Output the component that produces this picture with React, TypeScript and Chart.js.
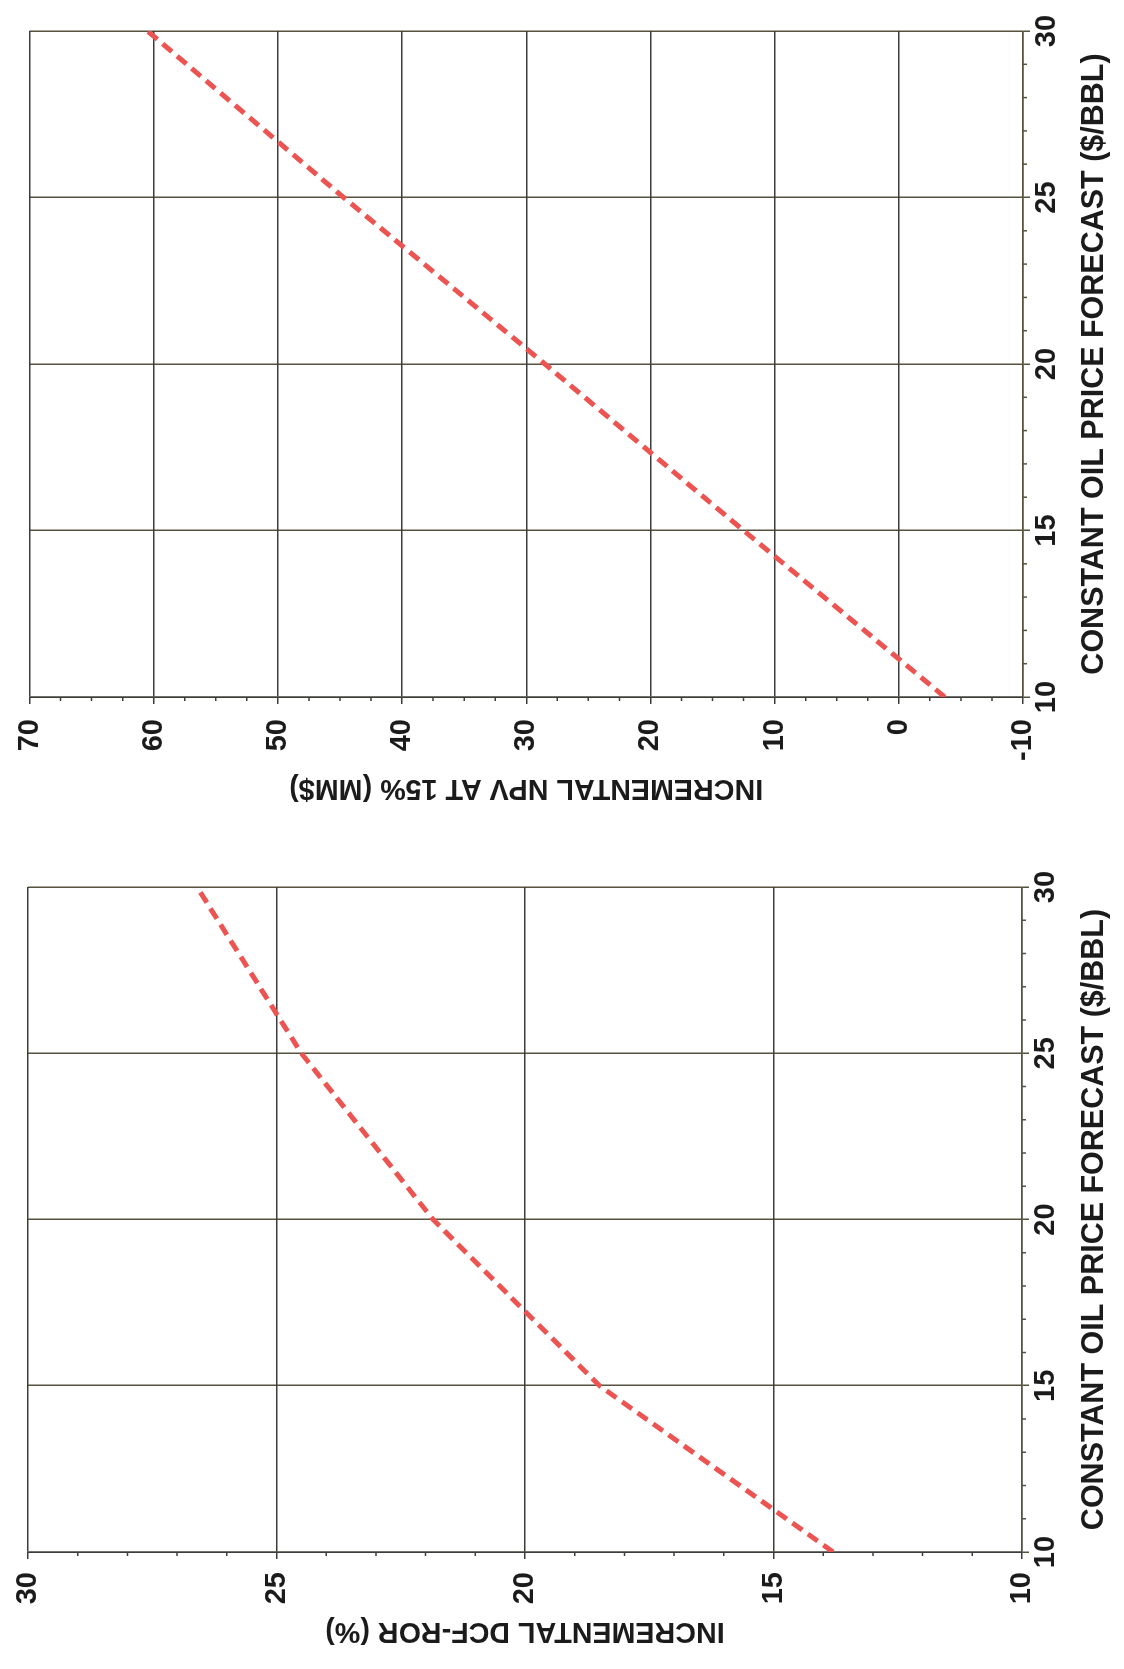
import React, { useEffect, useRef } from 'react';
import { Chart, registerables } from 'chart.js';

Chart.register(...registerables);

// ---------- data ----------
const oilPrice = [10, 15, 20, 25, 30];
const npvAt15 = [-3.7, 12.5, 28.5, 44.7, 60.5];
const dcfRor = [13.8, 18.5, 21.85, 24.5, 26.6];

// ---------- axis settings ----------
const priceAxis = { min: 10, max: 30, step: 5, minor: 1 };
const npvAxis = { min: -10, max: 70, step: 10, minor: 2.5 };
const rorAxis = { min: 10, max: 30, step: 5, minor: 1 };

const priceTitle = 'CONSTANT OIL PRICE FORECAST ($/BBL)';
const npvTitle = 'INCREMENTAL NPV AT 15% (MM$)';
const rorTitle = 'INCREMENTAL DCF-ROR (%)';

const FONT = '"Liberation Sans", Arial, Helvetica, sans-serif';
const TEXT = '#1b1b1b';
const GRID_Y = '#3c3c3a';
const GRID_X = '#57533f';
const LINE = '#ec5452';

const minorTickPlugin = {
  id: 'minorTicks',
  afterDraw(chart: any, _args: any, opts: any) {
    const { ctx, chartArea: a } = chart;
    const xs = chart.scales.x;
    const ys = chart.scales.y;
    ctx.save();
    ctx.lineWidth = 1.5;
    const drawSet = (scale: any, minor: number, major: number, horizontal: boolean, color: string) => {
      ctx.strokeStyle = color;
      ctx.beginPath();
      const n = Math.round((scale.max - scale.min) / minor);
      for (let i = 0; i <= n; i++) {
        const v = scale.min + i * minor;
        const r = v / major;
        if (Math.abs(r - Math.round(r)) < 1e-6) continue;
        const p = scale.getPixelForValue(v);
        if (horizontal) {
          ctx.moveTo(p, a.bottom);
          ctx.lineTo(p, a.bottom + opts.len);
        } else {
          ctx.moveTo(a.left, p);
          ctx.lineTo(a.left - opts.len, p);
        }
      }
      ctx.stroke();
    };
    drawSet(xs, opts.xMinor, opts.xMajor, true, GRID_X);
    drawSet(ys, opts.yMinor, opts.yMajor, false, GRID_Y);
    ctx.restore();
  },
};

type PanelProps = {
  top: number;
  W: number;
  H: number;
  values: number[];
  yAxis: { min: number; max: number; step: number; minor: number };
  yTitle: string;
  padTop: number;
  padRight: number;
  yWidth: number;
  xHeight: number;
  yLabelPad: number;
  yTitlePad: number;
};

function Panel(p: PanelProps) {
  const ref = useRef<HTMLCanvasElement>(null);
  useEffect(() => {
    if (!ref.current) return;
    const chart = new Chart(ref.current, {
      type: 'scatter',
      data: {
        datasets: [
          {
            data: oilPrice.map((x, i) => ({ x, y: p.values[i] })),
            showLine: true,
            borderColor: LINE,
            borderWidth: 5,
            borderDash: [12, 7],
            pointRadius: 0,
            fill: false,
            tension: 0,
          },
        ],
      },
      options: {
        animation: false,
        responsive: false,
        maintainAspectRatio: false,
        layout: { padding: { top: p.padTop, right: p.padRight, left: 0, bottom: 0 } },
        plugins: {
          legend: { display: false },
          tooltip: { enabled: false },
          minorTicks: {
            len: 4,
            xMinor: priceAxis.minor,
            xMajor: priceAxis.step,
            yMinor: p.yAxis.minor,
            yMajor: p.yAxis.step,
          },
        } as any,
        scales: {
          x: {
            type: 'linear',
            position: 'bottom',
            min: priceAxis.min,
            max: priceAxis.max,
            afterFit: (s: any) => {
              s.height = p.xHeight;
            },
            ticks: {
              stepSize: priceAxis.step,
              color: TEXT,
              padding: 2,
              maxRotation: 0,
              font: { family: FONT, size: 29, weight: 'bold', lineHeight: 1 },
            },
            grid: { color: GRID_X, lineWidth: 1.5, tickLength: 7, tickColor: GRID_X, tickWidth: 1.5 },
            border: { display: true, color: GRID_X, width: 1.5 },
            title: {
              display: true,
              text: priceTitle,
              color: TEXT,
              font: { family: FONT, size: 30.5, weight: 'bold', lineHeight: 1.2 },
              padding: { top: 0, bottom: 11 },
            },
          },
          y: {
            type: 'linear',
            position: 'left',
            min: p.yAxis.min,
            max: p.yAxis.max,
            afterFit: (s: any) => {
              s.width = p.yWidth;
            },
            ticks: {
              stepSize: p.yAxis.step,
              color: TEXT,
              padding: p.yLabelPad,
              font: { family: FONT, size: 29, weight: 'bold', lineHeight: 1 },
            },
            grid: { color: GRID_Y, lineWidth: 1.5, tickLength: 7, tickColor: GRID_Y, tickWidth: 1.5 },
            border: { display: true, color: GRID_Y, width: 1.5 },
            title: {
              display: true,
              text: p.yTitle,
              color: TEXT,
              font: { family: FONT, size: 28.7, weight: 'bold', lineHeight: 1.2 },
              padding: { top: p.yTitlePad, bottom: 0 },
            },
          },
        },
      } as any,
      plugins: [minorTickPlugin],
    });
    return () => chart.destroy();
  }, []);

  return (
    <div
      style={{
        position: 'absolute',
        left: 0,
        top: p.top,
        width: p.W,
        height: p.H,
        transformOrigin: '0 0',
        transform: `translate(0px, ${p.W}px) rotate(-90deg)`,
      }}
    >
      <canvas ref={ref} width={p.W} height={p.H} style={{ display: 'block', width: p.W, height: p.H }} />
    </div>
  );
}

export default function App() {
  return (
    <div style={{ position: 'absolute', left: 0, top: 0, width: 1124, height: 1669, background: '#ffffff', overflow: 'hidden' }}>
      <Panel
        top={0}
        W={834}
        H={1124}
        values={npvAt15}
        yAxis={npvAxis}
        yTitle={npvTitle}
        padTop={29}
        padRight={31}
        yWidth={137}
        xHeight={101}
        yLabelPad={15}
        yTitlePad={29}
      />
      <Panel
        top={834}
        W={835}
        H={1124}
        values={dcfRor}
        yAxis={rorAxis}
        yTitle={rorTitle}
        padTop={28}
        padRight={53}
        yWidth={117}
        xHeight={102}
        yLabelPad={13}
        yTitlePad={21}
      />
    </div>
  );
}
